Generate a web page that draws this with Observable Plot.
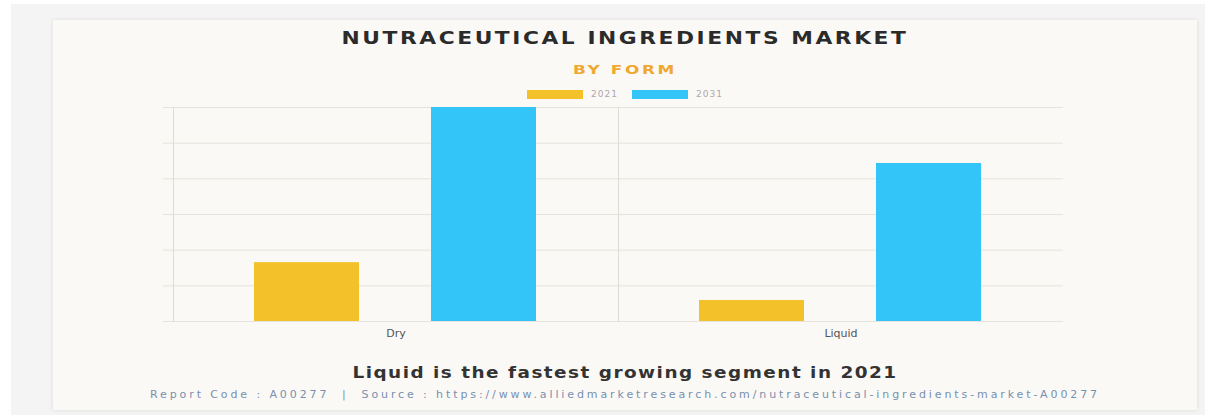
<!DOCTYPE html>
<html>
<head>
<meta charset="utf-8">
<script src="https://cdn.jsdelivr.net/npm/d3@7"></script>
<script src="https://cdn.jsdelivr.net/npm/@observablehq/plot@0.6"></script>
<style>
  html, body { margin: 0; padding: 0; background: #ffffff; }
  body { width: 1211px; height: 415px; position: relative; overflow: hidden; font-family: "DejaVu Sans", sans-serif; }
  #outer { position: absolute; left: 11px; top: 4px; width: 1194px; height: 411px; background: #f4f4f4; }
  #card { position: absolute; left: 53px; top: 20px; width: 1144px; height: 390px; background: #fbf9f5;
          box-shadow: 0 0 4px rgba(0,0,0,0.10); }
  #title { position: absolute; left: 0; width: 1144px; top: 8px; text-align: center; font-weight: bold;
           font-size: 17px; letter-spacing: 2px; color: #2b2b2b; transform: scaleX(1.28); transform-origin: 50% 50%; }
  #subtitle { position: absolute; left: 0; width: 1144px; top: 42px; text-align: center; font-weight: bold;
              font-size: 13px; letter-spacing: 2px; color: #f0a830; transform: scaleX(1.3); transform-origin: 50% 50%; }
  #legend { position: absolute; left: 0; width: 1144px; top: 69px; display: flex; justify-content: center; align-items: center; gap: 0; }
  .item { display: flex; align-items: center; margin: 0 7px; }
  .sw { width: 56px; height: 9px; margin-right: 8px; }
  .lab { font-size: 9px; letter-spacing: 1px; color: #b0a4b0; }
  #chart { position: absolute; left: 0; top: 77px; }
  #caption { position: absolute; left: 0; width: 1144px; top: 343px; text-align: center; font-weight: bold;
             font-size: 16px; letter-spacing: 1.3px; color: #333; transform: scaleX(1.15); transform-origin: 50% 50%; }
  #source { position: absolute; left: 0; width: 1144px; top: 368px; text-align: center;
            font-size: 11px; letter-spacing: 2.9px; color: #7890b0; }
  #chart svg g[aria-label="y-axis tick"] path { stroke: #e6e3de; }
  #chart svg g[aria-label="y-grid"] line, #chart svg g[aria-label="y-axis grid"] line { stroke: #e6e3de; stroke-opacity: 1; }
</style>
</head>
<body>
<div id="outer"></div>
<div id="card">
  <div id="title">NUTRACEUTICAL INGREDIENTS MARKET</div>
  <div id="subtitle">BY FORM</div>
  <div id="legend"></div>
  <div id="chart"></div>
  <div id="caption">Liquid is the fastest growing segment in 2021</div>
  <div id="source">Report Code : A00277 &nbsp;| &nbsp;Source : https://www.alliedmarketresearch.com/nutraceutical-ingredients-market-A00277</div>
</div>
<script>
const forms = ["Dry", "Liquid"];
const years = ["2021", "2031"];
const values2021 = [16.5, 5.9];
const values2031 = [60, 44.3];
const colors = ["#f3c22b", "#33c4f8"];
const yTicks = [0, 10, 20, 30, 40, 50, 60];

const data = [];
forms.forEach((f, i) => {
  data.push({form: f, year: years[0], value: values2021[i]});
  data.push({form: f, year: years[1], value: values2031[i]});
});

// legend
const leg = document.getElementById("legend");
years.forEach((y, i) => {
  const it = document.createElement("div");
  it.className = "item";
  it.innerHTML = `<div class="sw" style="background:${colors[i]}"></div><span class="lab">${y}</span>`;
  leg.appendChild(it);
});

const chart = Plot.plot({
  width: 1144,
  height: 249,
  marginLeft: 120,
  marginRight: 134,
  marginTop: 10,
  marginBottom: 25,
  style: {background: "transparent", fontFamily: "DejaVu Sans, sans-serif", fontSize: "11px", color: "#555"},
  fx: {domain: forms, padding: 0, label: null, tickSize: 0, tickPadding: 8},
  x: {domain: years, axis: null, paddingInner: 0.404, paddingOuter: 0.455},
  y: {domain: [0, 60], ticks: yTicks, tickFormat: () => "", tickSize: 10, label: null, grid: true},
  color: {domain: years, range: colors},
  marks: [
    Plot.frame({anchor: "left", stroke: "#dedbd6"}),
    Plot.barY(data, {fx: "form", x: "year", y: "value", fill: "year"})
  ]
});
document.getElementById("chart").appendChild(chart);
</script>
</body>
</html>
